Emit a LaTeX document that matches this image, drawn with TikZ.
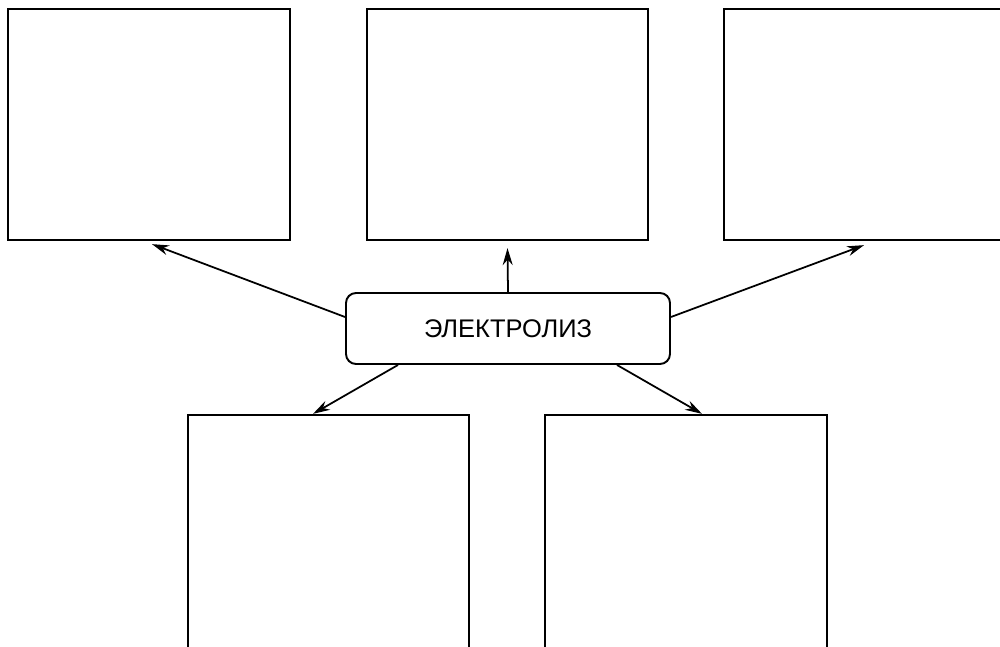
\documentclass[tikz,border=0pt]{standalone}
\usepackage{fontspec}
\setmainfont{Liberation Sans}
\usetikzlibrary{positioning,calc,arrows.meta}

\begin{document}
\begin{tikzpicture}[
    blank/.style={draw, line width=1.3pt, inner sep=0pt, minimum height=4.62cm},
    central/.style={draw, line width=1.1pt, rounded corners=0.2cm, minimum width=6.48cm, minimum height=1.42cm, font=\fontsize{14.5}{16}\selectfont},
    arr/.style={line width=1pt, -{Stealth[length=3.4mm,width=2mm]}}]
    \useasboundingbox (0,0) rectangle (20,12.92);
    \node[blank, minimum width=5.64cm] (tl) at (2.98,10.43) {};
    \node[blank, minimum width=5.62cm] (tm) at (10.15,10.43) {};
    \node[blank, minimum width=5.72cm] (tr) at (17.34,10.43) {};
    \node[blank, minimum width=5.62cm, minimum height=5.02cm] (bl) at (6.57,2.11) {};
    \node[blank, minimum width=5.64cm, minimum height=5.02cm] (br) at (13.72,2.11) {};
    \node[central] (el) at (10.16,6.35) {ЭЛЕКТРОЛИЗ};
    \draw[arr] ($(el.west)+(0,0.23)$) -- ($(tl.south)+(0.06,-0.06)$);
    \draw[arr] (el.north) -- ($(tm.south)+(0,-0.14)$);
    \draw[arr] ($(el.east)+(0,0.23)$) -- ($(tr.south)+(-0.06,-0.08)$);
    \draw[arr] ($(el.south)+(-2.2,0)$) -- ($(bl.north)+(-0.31,0)$);
    \draw[arr] ($(el.south)+(2.18,0)$) -- ($(br.north)+(0.32,0)$);
\end{tikzpicture}
\end{document}
